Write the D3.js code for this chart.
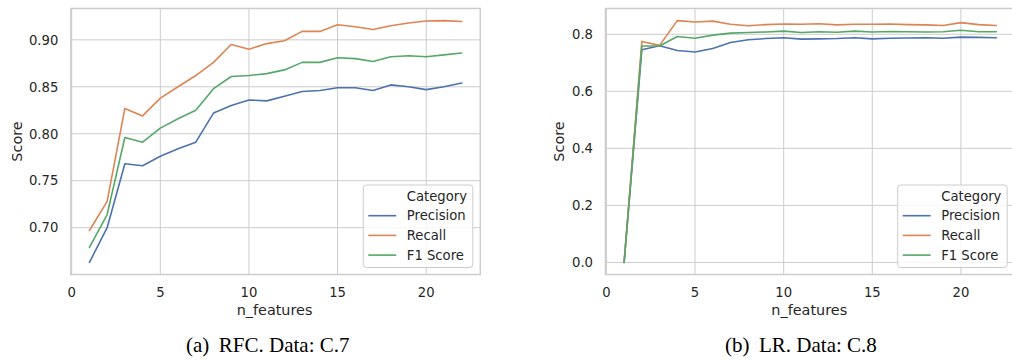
<!DOCTYPE html>
<html><head><meta charset="utf-8">
<script src="https://cdn.jsdelivr.net/npm/d3@7"></script>
<style>
html,body{margin:0;padding:0;background:#fff;overflow:hidden;}
svg{display:block;}
</style></head>
<body>
<svg id="chart" width="1012" height="360"></svg>
<script>
const nFeatures = d3.range(1, 23);
const seriesNames = ["Precision", "Recall", "F1 Score"];
const seriesColors = ["#4c72b0", "#dd8452", "#55a868"];

// (a) RFC. Data: C.7
const rfcPrecision = [0.663,0.700,0.768,0.766,0.776,0.784,0.791,0.822,0.830,0.836,0.835,0.840,0.845,0.846,0.849,0.849,0.846,0.852,0.850,0.847,0.850,0.854];
const rfcRecall    = [0.697,0.728,0.827,0.819,0.838,0.850,0.862,0.876,0.895,0.890,0.896,0.899,0.909,0.909,0.916,0.914,0.911,0.915,0.918,0.920,0.9205,0.9195];
const rfcF1        = [0.679,0.714,0.796,0.791,0.806,0.816,0.825,0.848,0.861,0.862,0.864,0.868,0.876,0.876,0.881,0.880,0.877,0.882,0.883,0.882,0.884,0.886];

// (b) LR. Data: C.8
const lrPrecision = [0.0,0.746,0.760,0.743,0.738,0.750,0.771,0.781,0.785,0.788,0.783,0.784,0.785,0.788,0.784,0.786,0.787,0.788,0.786,0.790,0.789,0.788];
const lrRecall    = [0.0,0.775,0.761,0.848,0.843,0.846,0.835,0.830,0.834,0.836,0.835,0.837,0.833,0.835,0.835,0.836,0.834,0.833,0.831,0.841,0.834,0.831];
const lrF1        = [0.0,0.759,0.759,0.792,0.786,0.797,0.804,0.806,0.808,0.811,0.806,0.809,0.807,0.811,0.808,0.810,0.809,0.808,0.809,0.814,0.809,0.809];

const xTicks = [0, 5, 10, 15, 20];
const yTicksA = [0.70, 0.75, 0.80, 0.85, 0.90];
const yTicksB = [0.0, 0.2, 0.4, 0.6, 0.8];
const captionA = ["(a)", "RFC. Data: C.7"];
const captionB = ["(b)", "LR. Data: C.8"];

const svg = d3.select("#chart");
const TXT = "#262626";
const GRID = "#cccccc";
const FONT = "'DejaVu Sans', sans-serif";

function withMargin(ext) {
  const r = ext[1] - ext[0];
  return [ext[0] - 0.05 * r, ext[1] + 0.05 * r];
}

function panel(opt) {
  const {left, top, width, height, series, yTicks, yFmt, caption, legendX} = opt;
  const g = svg.append("g");
  const x = d3.scaleLinear().domain(withMargin(d3.extent(nFeatures))).range([left, left + width]);
  const all = series.flat();
  const y = d3.scaleLinear().domain(withMargin(d3.extent(all))).range([top + height, top]);

  // grid
  g.selectAll(".gx").data(xTicks).enter().append("line")
    .attr("x1", d => x(d)).attr("x2", d => x(d))
    .attr("y1", top).attr("y2", top + height)
    .attr("stroke", GRID).attr("stroke-width", 1);
  g.selectAll(".gy").data(yTicks).enter().append("line")
    .attr("x1", left).attr("x2", left + width)
    .attr("y1", d => y(d)).attr("y2", d => y(d))
    .attr("stroke", GRID).attr("stroke-width", 1);

  // frame
  g.append("rect").attr("x", left).attr("y", top).attr("width", width).attr("height", height)
    .attr("fill", "none").attr("stroke", GRID).attr("stroke-width", 1.5);

  // tick labels
  g.selectAll(".tx").data(xTicks).enter().append("text")
    .attr("x", d => x(d)).attr("y", top + height + 22)
    .attr("text-anchor", "middle").attr("font-family", FONT).attr("font-size", 13.2)
    .attr("fill", TXT).text(d => d);
  g.selectAll(".ty").data(yTicks).enter().append("text")
    .attr("x", left - 12.5).attr("y", d => y(d)).attr("dy", "0.36em")
    .attr("text-anchor", "end").attr("font-family", FONT).attr("font-size", 13.2)
    .attr("fill", TXT).text(d => d3.format(yFmt)(d));

  // axis labels
  g.append("text").attr("x", left + width / 2 - 1).attr("y", top + height + 40)
    .attr("text-anchor", "middle").attr("font-family", FONT).attr("font-size", 14.4)
    .attr("fill", TXT).text("n_features");
  const ly = top + height / 2 + 0;
  g.append("text").attr("transform", `translate(${opt.scoreX},${ly}) rotate(-90)`)
    .attr("text-anchor", "middle").attr("font-family", FONT).attr("font-size", 14.4)
    .attr("fill", TXT).text("Score");

  // lines
  const line = d3.line().x((d, i) => x(nFeatures[i])).y(d => y(d));
  const clip = "clip" + Math.round(left);
  svg.append("clipPath").attr("id", clip).append("rect")
    .attr("x", left).attr("y", top).attr("width", width).attr("height", height);
  g.append("g").attr("clip-path", `url(#${clip})`)
    .selectAll("path").data(series).enter().append("path")
    .attr("d", line).attr("fill", "none")
    .attr("stroke", (d, i) => seriesColors[i]).attr("stroke-width", 1.6)
    .attr("stroke-linejoin", "round").attr("stroke-linecap", "round");

  // legend
  const lg = g.append("g");
  const lx = legendX, lyTop = 185, lw = 109.5, lh = 82.5;
  lg.append("rect").attr("x", lx).attr("y", lyTop).attr("width", lw).attr("height", lh)
    .attr("rx", 3).attr("fill", "#ffffff").attr("fill-opacity", 0.8)
    .attr("stroke", GRID).attr("stroke-width", 1);
  const rows = ["Category"].concat(seriesNames);
  rows.forEach((r, i) => {
    const cy = 196 + i * 19.7;
    if (i > 0) {
      lg.append("line").attr("x1", lx + 5).attr("x2", lx + 33)
        .attr("y1", cy).attr("y2", cy)
        .attr("stroke", seriesColors[i - 1]).attr("stroke-width", 1.6);
    }
    lg.append("text").attr("x", lx + 43.5).attr("y", cy).attr("dy", "0.36em")
      .attr("font-family", FONT).attr("font-size", 13.2).attr("fill", TXT).text(r);
  });

  // caption
  const cap = g.append("text").attr("x", opt.captionX).attr("y", 351.5)
    .attr("font-family", "'Liberation Serif', 'Times New Roman', serif")
    .attr("font-size", 21).attr("fill", "#000");
  cap.append("tspan").text(caption[0]);
  cap.append("tspan").attr("dx", 9.5).text(caption[1]);
}

panel({left: 70.8, top: 8.5, width: 409.5, height: 266,
  series: [rfcPrecision, rfcRecall, rfcF1], yTicks: yTicksA, yFmt: ".2f",
  caption: captionA, legendX: 363.3, scoreX: 22, captionX: 186});
panel({left: 605.5, top: 8.5, width: 409.5, height: 266,
  series: [lrPrecision, lrRecall, lrF1], yTicks: yTicksB, yFmt: ".1f",
  caption: captionB, legendX: 897.7, scoreX: 564, captionX: 725});
</script>
</body></html>
